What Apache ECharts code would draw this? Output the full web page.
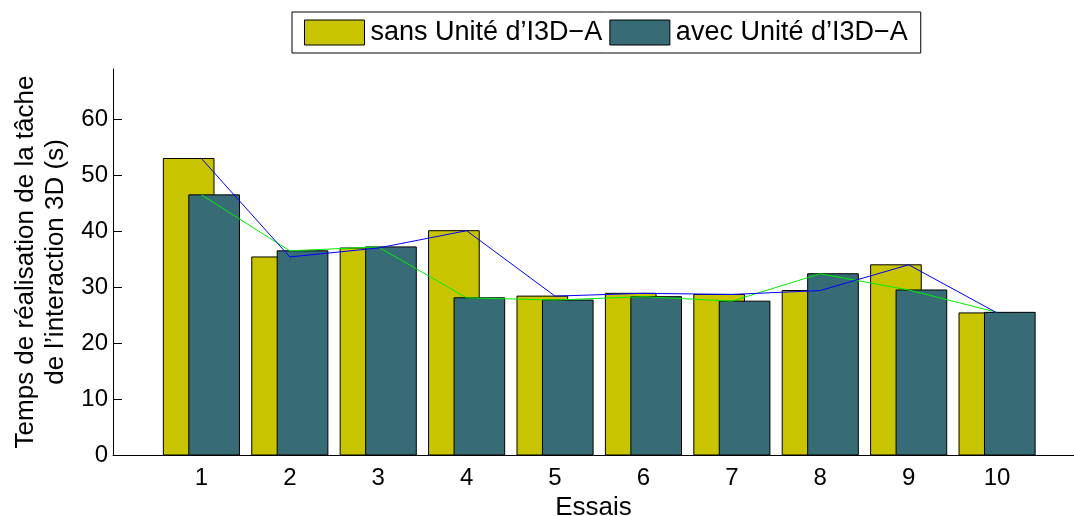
<!DOCTYPE html>
<html>
<head>
<meta charset="utf-8">
<style>
  html, body { margin: 0; padding: 0; background: #fff; }
  #chart { width: 1074px; height: 516px; }
</style>
<script src="https://cdn.jsdelivr.net/npm/echarts@6/dist/echarts.min.js"></script>
</head>
<body>
<div id="chart"></div>
<script>
// Trial numbers and the task completion times (seconds)
const categories = ['1', '2', '3', '4', '5', '6', '7', '8', '9', '10'];
const sansValues = [53.0, 35.4, 37.0, 40.1, 28.4, 28.9, 28.7, 29.4, 34.0, 25.4];
const avecValues = [46.5, 36.5, 37.2, 28.1, 27.7, 28.3, 27.5, 32.4, 29.5, 25.5];
const yTicks = [0, 10, 20, 30, 40, 50, 60];
const seriesNames = ['sans Unité d\u2019I3D\u2212A', 'avec Unité d\u2019I3D\u2212A'];

const FONT = "'Liberation Sans', Arial, Helvetica, sans-serif";
const COLOR_SANS = '#c8c400';
const COLOR_AVEC = '#376c76';

// bar geometry in x-axis units (one unit per trial)
const BAR_W = 0.573;
const BAR_OFF = 0.144;

function toPoints(vals) {
  return vals.map((v, i) => [i + 1, v]);
}

function barRenderer(offset, color) {
  return function (params, api) {
    const x = api.value(0);
    const y = api.value(1);
    const p0 = api.coord([x + offset - BAR_W / 2, y]);
    const p1 = api.coord([x + offset + BAR_W / 2, 0]);
    return {
      type: 'rect',
      shape: { x: p0[0], y: p0[1], width: p1[0] - p0[0], height: p1[1] - p0[1] },
      style: { fill: color, stroke: '#000', lineWidth: 1 }
    };
  };
}

const chart = echarts.init(document.getElementById('chart'), null, { renderer: 'canvas' });

chart.setOption({
  animation: false,
  backgroundColor: '#fff',
  textStyle: { fontFamily: FONT, color: '#000' },
  grid: { left: 113, right: 0, top: 69, bottom: 61, containLabel: false, outerBoundsMode: 'none' },
  legend: {
    data: seriesNames,
    left: 292,
    top: 12,
    orient: 'horizontal',
    icon: 'rect',
    itemWidth: 60,
    itemHeight: 25,
    itemGap: 7,
    padding: [7, 13, 7, 12],
    borderColor: '#000',
    borderWidth: 1,
    backgroundColor: '#fff',
    itemStyle: { borderColor: '#000', borderWidth: 1 },
    textStyle: { fontFamily: FONT, fontSize: 27, color: '#000', padding: [0, 0, 0, 1] }
  },
  xAxis: {
    type: 'value',
    min: 0,
    max: 10.87,
    interval: 1,
    name: 'Essais',
    nameLocation: 'middle',
    nameGap: 36,
    nameTextStyle: { fontFamily: FONT, fontSize: 26, color: '#000' },
    axisLine: { lineStyle: { color: '#000', width: 1 } },
    axisTick: { show: false },
    splitLine: { show: false },
    axisLabel: {
      fontFamily: FONT, fontSize: 24, color: '#000', margin: 11,
      formatter: function (v) {
        return (Number.isInteger(v) && v >= 1 && v <= categories.length) ? categories[v - 1] : '';
      }
    }
  },
  yAxis: {
    type: 'value',
    min: 0,
    max: 69,
    name: 'Temps de réalisation de la tâche\nde l\u2019interaction 3D (s)',
    nameLocation: 'middle',
    nameRotate: 90,
    nameGap: 40,
    nameTextStyle: { fontFamily: FONT, fontSize: 26, color: '#000', lineHeight: 30 },
    axisLine: { show: true, lineStyle: { color: '#000', width: 1 } },
    axisTick: { show: true, inside: true, length: 9, lineStyle: { color: '#000' }, customValues: yTicks },
    splitLine: { show: false },
    axisLabel: { fontFamily: FONT, fontSize: 24, color: '#000', margin: 5, customValues: yTicks }
  },
  series: [
    {
      name: seriesNames[0],
      type: 'custom',
      renderItem: barRenderer(-BAR_OFF, COLOR_SANS),
      itemStyle: { color: COLOR_SANS },
      encode: { x: 0, y: 1 },
      data: toPoints(sansValues),
      z: 2
    },
    {
      name: seriesNames[1],
      type: 'custom',
      renderItem: barRenderer(BAR_OFF, COLOR_AVEC),
      itemStyle: { color: COLOR_AVEC },
      encode: { x: 0, y: 1 },
      data: toPoints(avecValues),
      z: 3
    },
    {
      name: 'ligne avec',
      type: 'line',
      data: toPoints(avecValues),
      symbol: 'none',
      lineStyle: { color: '#00ee00', width: 1 },
      z: 5
    },
    {
      name: 'ligne sans',
      type: 'line',
      data: toPoints(sansValues),
      symbol: 'none',
      lineStyle: { color: '#0000ff', width: 1 },
      z: 6
    }
  ]
});
</script>
</body>
</html>
